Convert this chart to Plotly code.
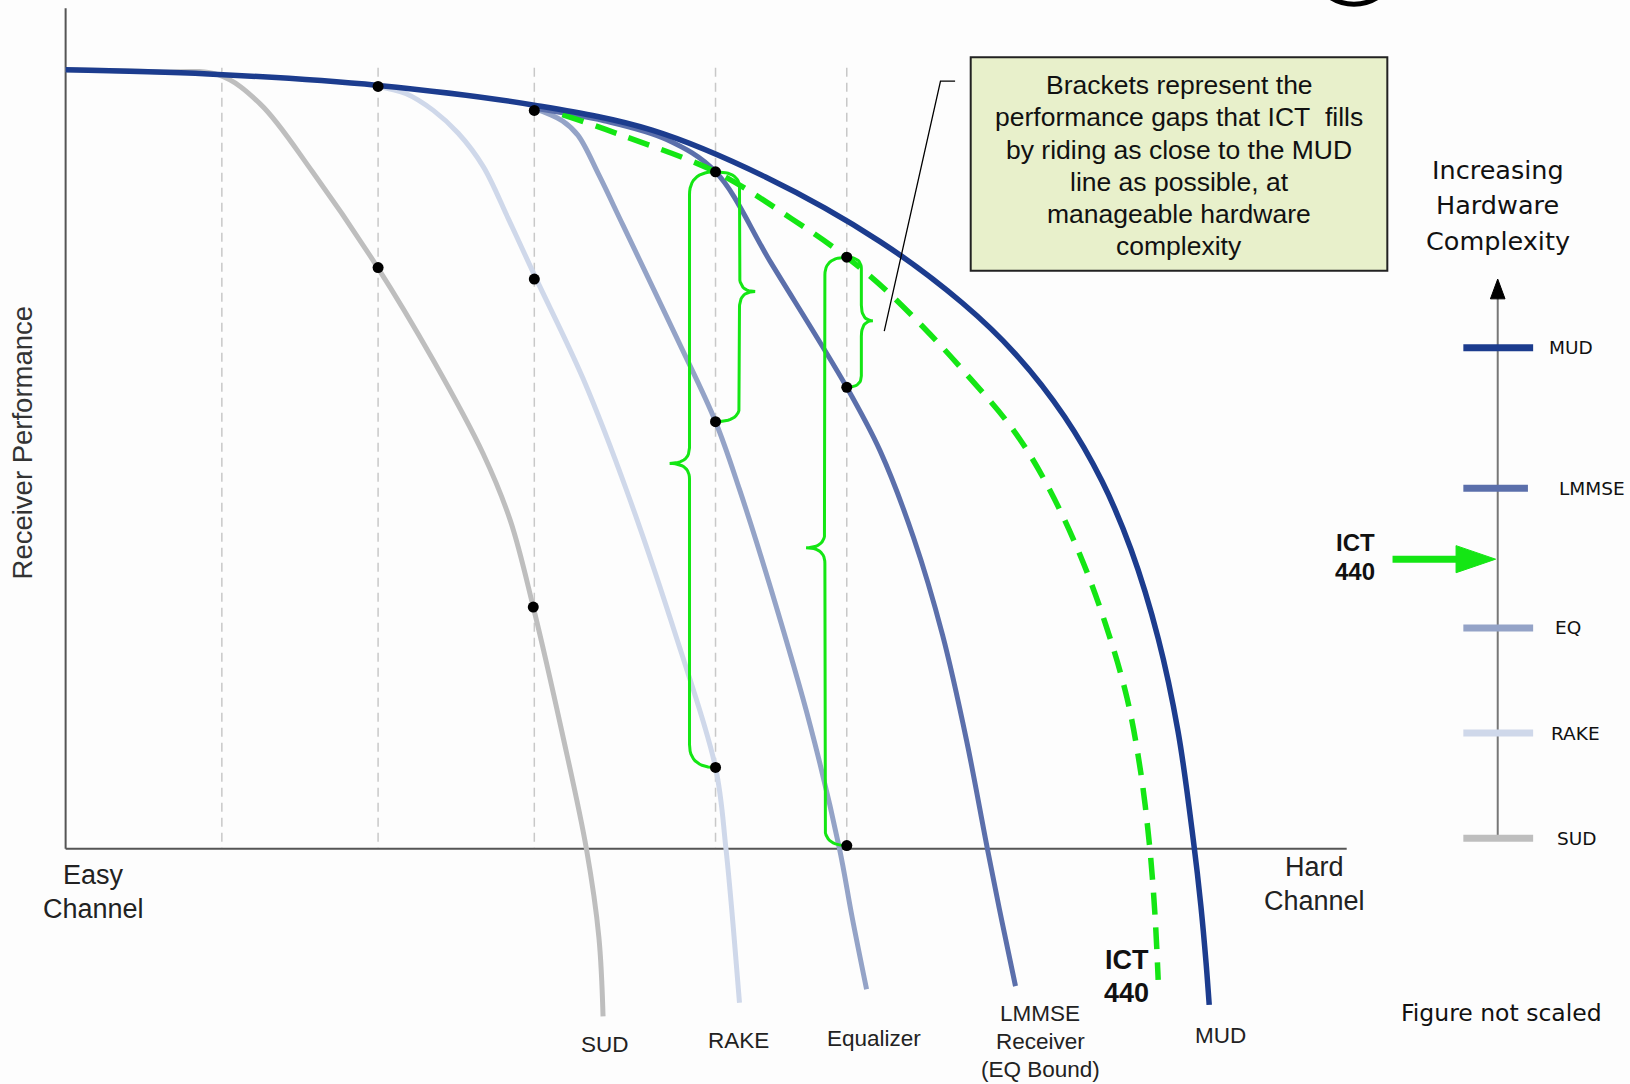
import plotly.graph_objects as go
import numpy as np

# ---------------- data (diagram units: x = channel difficulty, y = performance drop, downward) -------------
sud_x = [63, 150, 210, 250, 300, 362, 416, 464, 490, 512, 540, 563, 575, 579]
sud_y = [67, 69, 72, 100, 165, 256, 346, 436, 500, 583, 705, 815, 900, 976]

rake_x = [363, 390, 416, 440, 464, 488, 513, 560, 602, 650, 687, 697, 704, 710]
rake_y = [83, 90, 106, 128, 160, 210, 264, 364, 472, 614, 737, 815, 890, 963]

eq_x = [513, 540, 555, 575, 598, 650, 687, 710, 740, 778, 806, 818, 832]
eq_y = [104, 116, 130, 168, 216, 325, 405, 470, 565, 697, 815, 880, 950]

lmmse_x = [513, 580, 640, 687, 740, 813, 845, 877, 905, 928, 948, 962, 975]
lmmse_y = [104, 116, 134, 165, 252, 372, 433, 516, 610, 711, 815, 885, 947]

ict_x = [540, 600, 687, 760, 813, 851, 893, 925, 973, 1005, 1037, 1062, 1082, 1095, 1104, 1109, 1112]
ict_y = [110, 131, 165, 210, 247, 279, 321, 356, 413, 465, 533, 601, 670, 740, 815, 880, 941]

mud_x = [63, 200, 363, 513, 626, 735, 845, 924, 975, 1022, 1058, 1086, 1112, 1131, 1146, 1153, 1158, 1161]
mud_y = [67, 71, 82, 101, 125, 170, 232, 291, 340, 400, 462, 528, 613, 702, 809, 870, 925, 965]

dot_x = [363, 513, 687, 363, 513, 687, 813, 813, 512, 687, 813]
dot_y = [83, 106, 165, 257, 268, 405, 247, 372, 583, 737, 812]

grid_x = [213, 363, 513, 687, 813]

bracket_xdot = [687, 687, 813, 813]
bracket_top = [165, 165, 247, 247]
bracket_bot = [737, 405, 812, 372]
bracket_xv = [662, 710, 792, 827]
bracket_xtip = [643, 725, 774, 838]
bracket_ytip = [445, 280, 526, 308]
bracket_r = [22, 15, 17, 11]

curve_labels = ["SUD", "RAKE", "Equalizer", "LMMSE", "Receiver", "(EQ Bound)", "MUD"]
curve_label_x = [581, 709, 839, 999, 999, 999, 1172]
curve_label_y = [1003, 999, 997, 973, 1000, 1027, 994]

box_lines = ["Brackets represent the", "performance gaps that ICT\u00a0 fills",
             "by riding as close to the MUD", "line as possible, at",
             "manageable hardware", "complexity"]

legend_labels = ["MUD", "LMMSE", "EQ", "RAKE", "SUD"]
legend_y = [334, 469, 603, 704, 805]
legend_x1 = [1472, 1467, 1472, 1472, 1472]
legend_label_x = [1485, 1495, 1491, 1487, 1493]

# ---------------- styles ----------------
C_SUD = "#bebebe"
C_RAKE = "#cfd8ea"
C_EQ = "#94a3c7"
C_LMMSE = "#5b6fab"
C_MUD = "#1c3c8e"
C_GREEN = "#14e614"
C_AXIS = "#555555"
C_GRID = "#c8c8c8"
ARIAL = "Liberation Sans, Arial, sans-serif"
VERD = "DejaVu Sans, Verdana, sans-serif"

W, H = 1565, 1041

fig = go.Figure()


def add_line(x, y, color, width, dash=None, spline=False, smoothing=1.0):
    line = dict(color=color, width=width)
    if dash:
        line["dash"] = dash
    if spline:
        line["shape"] = "spline"
        line["smoothing"] = smoothing
    fig.add_trace(go.Scatter(x=x, y=y, mode="lines", line=line, hoverinfo="skip", showlegend=False))


# dashed guide lines
for gx in grid_x:
    add_line([gx, gx], [65, 815], C_GRID, 1.5, dash="9px,6px")

# axes
add_line([63, 63], [8, 815], C_AXIS, 2)
add_line([63, 1293], [815, 815], C_AXIS, 2)

# receiver curves
add_line(sud_x, sud_y, C_SUD, 5, spline=True)
add_line(rake_x, rake_y, C_RAKE, 5, spline=True)
add_line(eq_x, eq_y, C_EQ, 5, spline=True)
add_line(lmmse_x, lmmse_y, C_LMMSE, 5, spline=True)
add_line(ict_x, ict_y, C_GREEN, 5.5, dash="22px,13px", spline=True)
add_line(mud_x, mud_y, C_MUD, 5.5, spline=True)


# brackets
def qbez(p0, p1, p2, n=14):
    t = np.linspace(0, 1, n)
    xs = (1 - t) ** 2 * p0[0] + 2 * (1 - t) * t * p1[0] + t ** 2 * p2[0]
    ys = (1 - t) ** 2 * p0[1] + 2 * (1 - t) * t * p1[1] + t ** 2 * p2[1]
    return list(xs), list(ys)


for xd, yt, yb, xv, xt, ym, r in zip(bracket_xdot, bracket_top, bracket_bot, bracket_xv,
                                       bracket_xtip, bracket_ytip, bracket_r):
    rm = 15
    bx, by = [], []
    a = qbez((xd, yt), (xv, yt), (xv, yt + r)); bx += a[0]; by += a[1]
    a = qbez((xv, ym - rm), (xv, ym), (xt, ym)); bx += a[0]; by += a[1]
    a = qbez((xt, ym), (xv, ym), (xv, ym + rm)); bx += a[0]; by += a[1]
    a = qbez((xv, yb - r), (xv, yb), (xd, yb)); bx += a[0]; by += a[1]
    add_line(bx, by, C_GREEN, 3)

# dots
fig.add_trace(go.Scatter(x=dot_x, y=dot_y, mode="markers",
                         marker=dict(color="black", size=11), hoverinfo="skip", showlegend=False))

# leader line from note box
add_line([917, 903, 849], [78, 78, 318], "black", 1.3)

# right-hand complexity scale
add_line([1438, 1438], [805, 283], "#777777", 2)
fig.add_trace(go.Scatter(x=[1438, 1431, 1445, 1438], y=[268, 287, 287, 268], mode="lines", fill="toself",
                         fillcolor="black", line=dict(color="black", width=1), hoverinfo="skip", showlegend=False))
legend_colors = [C_MUD, C_LMMSE, C_EQ, C_RAKE, C_SUD]
for ly, lx1, lc in zip(legend_y, legend_x1, legend_colors):
    add_line([1405, lx1], [ly, ly], lc, 7)

# green ICT arrow
add_line([1337, 1400], [537, 537], C_GREEN, 7)
fig.add_trace(go.Scatter(x=[1398, 1436, 1398, 1398], y=[524, 537, 550, 524], mode="lines", fill="toself",
                         fillcolor=C_GREEN, line=dict(color=C_GREEN, width=1), hoverinfo="skip", showlegend=False))

# ---------------- text ----------------
ann = []


def txt(x, y, s, size, family=ARIAL, anchor="center", bold=False, angle=0, color="#111111"):
    if bold:
        s = "<b>" + s + "</b>"
    ann.append(dict(x=x, y=y, xref="x", yref="y", text=s, showarrow=False, xanchor=anchor, yanchor="middle",
                    textangle=angle, font=dict(size=size, family=family, color=color)))


txt(22, 425, "Receiver Performance", 27.5, angle=-90, color="#333333")
txt(90, 840, "Easy", 27, color="#222222")
txt(90, 873, "Channel", 27, color="#222222")
txt(1262, 833, "Hard", 27, color="#222222")
txt(1262, 865, "Channel", 27, color="#222222")

for lx, ly, s in zip(curve_label_x, curve_label_y, curve_labels):
    txt(lx, ly, s, 22.5, color="#222222")
txt(1082, 922, "ICT", 27, bold=True)
txt(1082, 954, "440", 27, bold=True)

for i, s in enumerate(box_lines):
    txt(1132, 82 + i * 30.8, s, 26.5)

txt(1438, 163, "Increasing", 25.5, family=VERD)
txt(1438, 197, "Hardware", 25.5, family=VERD)
txt(1438, 231, "Complexity", 25.5, family=VERD)

for s, lx, ly in zip(legend_labels, legend_label_x, legend_y):
    txt(lx, ly, s, 18.5, family=VERD, anchor="left")

txt(1322, 521, "ICT", 24, bold=True, anchor="right")
txt(1322, 549, "440", 24, bold=True, anchor="right")

txt(1442, 973, "Figure not scaled", 23.5, family=VERD)

shapes = [
    dict(type="rect", xref="x", yref="y", x0=932, x1=1332, y0=55, y1=260,
         fillcolor="#e8f0cb", line=dict(color="#222222", width=2), layer="below"),
    dict(type="circle", xref="x", yref="y", x0=1258, x1=1342, y0=-80, y1=4,
         line=dict(color="black", width=5)),
]

fig.update_layout(
    width=1630, height=1084,
    margin=dict(l=0, r=0, t=0, b=0),
    paper_bgcolor="#fdfdfd", plot_bgcolor="#fdfdfd",
    xaxis=dict(range=[0, W], visible=False, fixedrange=True),
    yaxis=dict(range=[H, 0], visible=False, fixedrange=True),
    annotations=ann, shapes=shapes, showlegend=False,
)

fig.write_html("out.html", config={"displayModeBar": False},
               post_script="document.body.style.margin='0px';document.body.style.overflow='hidden';")
